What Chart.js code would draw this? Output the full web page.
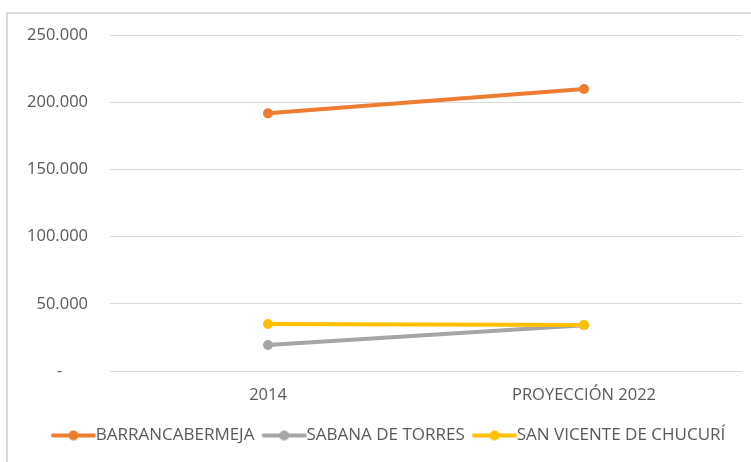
<!DOCTYPE html>
<html>
<head>
<meta charset="utf-8">
<script src="https://cdn.jsdelivr.net/npm/chart.js@4"></script>
<style>
    html, body { margin: 0; padding: 0; background: #fff; }
    #wrap { position: relative; width: 751px; height: 462px; overflow: hidden; }
    #frame { position: absolute; left: 6px; top: 12px; width: 800px; height: 500px; border-top: 2px solid #d9d9d9; border-left: 2px solid #d9d9d9; }
    canvas { position: absolute; left: 0; top: 0; }
</style>
</head>
<body>
<div id="wrap">
    <div id="frame"></div>
    <canvas id="chart" width="751" height="462"></canvas>
</div>
<script>
// Categories and series
const categories = ['2014', 'PROYECCIÓN 2022'];
const barrancabermeja = [191700, 209800];
const sabanaDeTorres = [19300, 34000];
const sanVicente = [35000, 34200];
const seriesNames = ['BARRANCABERMEJA', 'SABANA DE TORRES', 'SAN VICENTE DE CHUCURÍ'];

const colors = {
    orange: '#ED7D31',
    gray: '#A5A5A5',
    yellow: '#FFC000',
    text: '#595959',
    grid: '#d9d9d9'
};

const FONT = { family: '"Open Sans", sans-serif', size: 16.5 };
const LEGEND_FONT = { family: '"Open Sans", sans-serif', size: 17 };

// Legend marker: short line with a dot in the middle.
// Canvas is centred by Chart.js at x + pointStyleWidth/2, so the line is
// drawn in the right part of it to sit flush against the label text.
function lineMarker(color) {
    const c = document.createElement('canvas');
    c.width = 54; c.height = 12;
    const ctx = c.getContext('2d');
    ctx.strokeStyle = color;
    ctx.lineWidth = 4;
    ctx.lineCap = 'round';
    ctx.beginPath();
    ctx.moveTo(11, 6); ctx.lineTo(52, 6);
    ctx.stroke();
    ctx.fillStyle = color;
    ctx.beginPath();
    ctx.arc(31.5, 6, 5, 0, Math.PI * 2);
    ctx.fill();
    return c;
}

function fmt(v) {
    if (v === 0) return '-      ';
    return String(v).replace(/\B(?=(\d{3})+(?!\d))/g, '.');
}

function series(label, data, color, order) {
    return {
        label,
        data,
        order,
        borderColor: color,
        backgroundColor: color,
        borderWidth: 4,
        pointRadius: 5,
        pointHoverRadius: 5,
        pointBorderWidth: 0,
        tension: 0,
        marker: lineMarker(color)
    };
}

// Excel centres the legend a bit to the right of the canvas middle
const legendShift = {
    id: 'legendShift',
    afterLayout(chart) {
        if (chart.legend) chart.legend.left += 34;
    }
};

const ctx = document.getElementById('chart').getContext('2d');

new Chart(ctx, {
    type: 'line',
    data: {
        labels: categories,
        datasets: [
            series(seriesNames[0], barrancabermeja, colors.orange, 2),
            series(seriesNames[1], sabanaDeTorres, colors.gray, 1),
            series(seriesNames[2], sanVicente, colors.yellow, 0)
        ]
    },
    plugins: [legendShift],
    options: {
        responsive: false,
        animation: false,
        devicePixelRatio: 1,
        layout: { padding: { top: 35, right: 9, left: 0, bottom: 8 } },
        plugins: {
            tooltip: { enabled: false },
            legend: {
                position: 'bottom',
                labels: {
                    color: colors.text,
                    font: LEGEND_FONT,
                    usePointStyle: true,
                    pointStyleWidth: 36.5,
                    padding: 7,
                    generateLabels: (chart) => chart.data.datasets.map((ds, i) => ({
                        text: ds.label,
                        fillStyle: ds.borderColor,
                        strokeStyle: ds.borderColor,
                        lineWidth: 0,
                        pointStyle: ds.marker,
                        fontColor: colors.text,
                        hidden: false,
                        datasetIndex: i
                    }))
                }
            }
        },
        scales: {
            x: {
                offset: true,
                grid: { display: false, drawTicks: false },
                border: { display: false },
                ticks: { color: colors.text, font: FONT, padding: 14, maxRotation: 0 },
                afterFit: (scale) => { scale.height = 49; }
            },
            y: {
                min: 0,
                max: 250000,
                grid: { color: colors.grid, lineWidth: 1, drawTicks: false },
                border: { display: false },
                ticks: {
                    stepSize: 50000,
                    color: colors.text,
                    font: FONT,
                    padding: 22,
                    callback: (v) => fmt(v)
                },
                afterFit: (scale) => { scale.width = 110; }
            }
        }
    }
});
</script>
</body>
</html>
